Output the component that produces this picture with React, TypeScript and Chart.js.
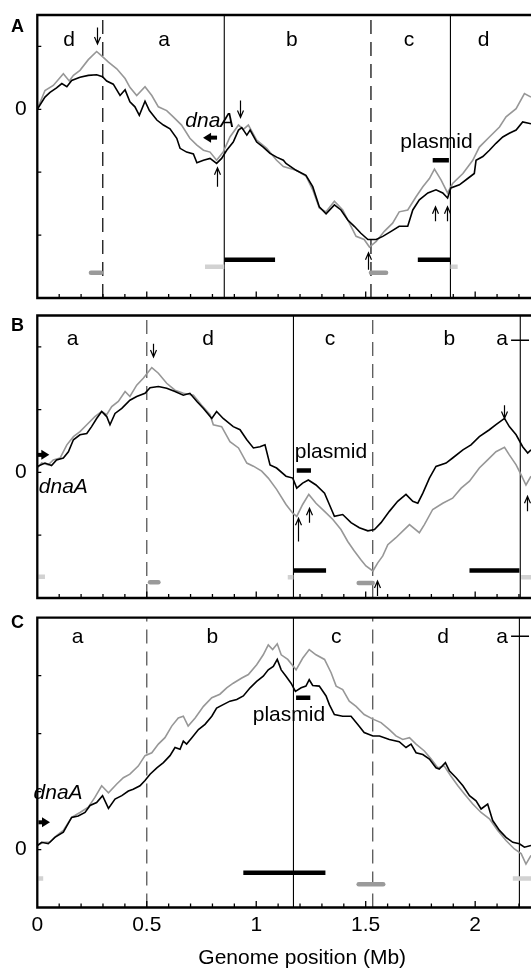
import React, { useEffect, useRef } from 'react';
import { Chart, registerables } from 'chart.js';

Chart.register(...registerables);
Chart.defaults.font.family = "'Liberation Sans', Arial, sans-serif";

type P = [number, number];
type Bar = [number, number, number, string]; // x1, x2, y, kind

const FONT = "'Liberation Sans', Arial, sans-serif";
const X_MAX = 2.255;
const X_LABEL_TICKS = [0, 0.5, 1, 1.5, 2];
const X_MINOR_TICKS = [0.1, 0.2, 0.3, 0.4, 0.5, 0.6, 0.7, 0.8, 0.9, 1.0, 1.1, 1.2, 1.3, 1.4, 1.5, 1.6, 1.7, 1.8, 1.9, 2.0, 2.1, 2.2];
const Y_LABEL = '0';
const X_TITLE = 'Genome position (Mb)';
const X_TITLE_AT = 1.21;

// ---------------- Panel A ----------------
const A_BLACK: P[] = [
  [0, 0], [0.035, 0.195], [0.058, 0.27], [0.088, 0.34], [0.112, 0.41], [0.135, 0.36], [0.157, 0.46], [0.195, 0.51],
  [0.233, 0.54], [0.271, 0.55], [0.298, 0.52], [0.317, 0.45], [0.347, 0.4], [0.378, 0.22], [0.401, 0.31], [0.423, 0.12],
  [0.446, 0.04], [0.466, -0.095], [0.492, 0.13], [0.512, -0.02], [0.546, -0.17], [0.576, -0.25], [0.606, -0.31],
  [0.637, -0.46], [0.652, -0.62], [0.682, -0.68], [0.713, -0.71], [0.729, -0.85], [0.759, -0.81], [0.789, -0.78],
  [0.819, -0.86], [0.842, -0.78], [0.865, -0.65], [0.895, -0.52], [0.919, -0.33], [0.934, -0.29], [0.957, -0.41],
  [0.972, -0.33], [1.002, -0.52], [1.032, -0.6], [1.063, -0.7], [1.093, -0.76], [1.124, -0.81], [1.136, -0.86],
  [1.182, -0.97], [1.227, -1.05], [1.258, -1.23], [1.288, -1.55], [1.319, -1.66], [1.357, -1.52], [1.387, -1.6],
  [1.418, -1.76], [1.448, -1.86], [1.478, -1.97], [1.51, -2.07], [1.548, -2.07], [1.578, -2.02], [1.616, -1.94],
  [1.653, -1.86], [1.692, -1.86], [1.715, -1.6], [1.745, -1.44], [1.784, -1.33], [1.821, -1.28], [1.852, -1.33],
  [1.874, -1.41], [1.889, -1.25], [1.928, -1.2], [1.966, -1.1], [1.996, -1.02], [2.004, -0.81], [2.035, -0.75],
  [2.065, -0.65], [2.095, -0.54], [2.126, -0.44], [2.156, -0.38], [2.187, -0.33], [2.217, -0.2], [2.255, -0.23],
];
const A_GRAY: P[] = [
  [0, 0], [0.035, 0.3], [0.073, 0.38], [0.119, 0.565], [0.146, 0.45], [0.165, 0.54], [0.195, 0.62], [0.233, 0.79],
  [0.271, 0.92], [0.294, 0.85], [0.325, 0.75], [0.363, 0.645], [0.401, 0.49], [0.423, 0.35], [0.454, 0.22],
  [0.492, 0.36], [0.523, 0.22], [0.553, 0.04], [0.591, -0.02], [0.621, -0.12], [0.659, -0.25], [0.697, -0.46],
  [0.729, -0.57], [0.759, -0.65], [0.789, -0.68], [0.819, -0.81], [0.849, -0.68], [0.88, -0.44], [0.919, -0.25],
  [0.941, -0.32], [0.964, -0.25], [1.002, -0.49], [1.048, -0.62], [1.093, -0.81], [1.124, -0.91], [1.182, -0.97],
  [1.227, -1.06], [1.258, -1.28], [1.288, -1.57], [1.319, -1.63], [1.357, -1.46], [1.395, -1.6], [1.456, -2.02],
  [1.493, -2.07], [1.517, -2.19], [1.548, -2.1], [1.585, -1.94], [1.623, -1.81], [1.653, -1.63], [1.692, -1.6],
  [1.73, -1.39], [1.761, -1.23], [1.791, -1.1], [1.814, -0.95], [1.844, -1.12], [1.874, -1.33], [1.897, -1.18],
  [1.944, -1.02], [1.989, -0.81], [2.019, -0.6], [2.065, -0.44], [2.111, -0.28], [2.141, -0.12], [2.187, 0.01],
  [2.225, 0.25], [2.255, 0.195],
];
const A_Y_MIN = -3;
const A_Y_MAX = 1.5;
const A_Y_TICKS = [1, 0, -1, -2];
const A_SOLID = [0.854, 1.887];
const A_DASHED = [0.299, 1.524];
const A_REGIONS: [string, number][] = [['d', 0.145], ['a', 0.579], ['b', 1.163], ['c', 1.698], ['d', 2.038]];
const A_REGION_Y = 1.0;
const A_BARS: Bar[] = [
  [0.245, 0.291, -2.6, 'g'], [0.766, 0.854, -2.505, 'l'], [0.854, 1.086, -2.39, 'k'],
  [1.524, 1.593, -2.6, 'g'], [1.738, 1.887, -2.39, 'k'], [1.887, 1.92, -2.505, 'l'], [1.806, 1.88, -0.81, 'k'],
];
const A_ARROW_LIST: [number, number, number][] = [
  [0.271, 1.3, 1.04], [0.82, -1.23, -0.93], [0.926, 0.14, -0.13], [1.509, -2.55, -2.28], [1.817, -1.78, -1.55], [1.872, -1.78, -1.55],
];
const A_BIG_ARROWS: [number, number, number][] = [[0.821, 0.757, -0.45]];
const A_TEXTS: [string, number, number, boolean][] = [['dnaA', 0.676, -0.28, true], ['plasmid', 1.658, -0.62, false]];

// ---------------- Panel B ----------------
const B_BLACK: P[] = [
  [0, 0.095], [0.035, 0.15], [0.065, 0.11], [0.088, 0.2], [0.119, 0.23], [0.142, 0.33], [0.165, 0.52], [0.195, 0.6],
  [0.226, 0.62], [0.248, 0.73], [0.271, 0.86], [0.294, 0.97], [0.317, 0.89], [0.332, 0.76], [0.355, 0.94], [0.386, 1.02],
  [0.423, 1.15], [0.454, 1.21], [0.492, 1.26], [0.515, 1.35], [0.553, 1.37], [0.591, 1.34], [0.629, 1.29], [0.667, 1.23],
  [0.697, 1.26], [0.729, 1.13], [0.759, 1.02], [0.797, 0.86], [0.819, 0.97], [0.849, 0.86], [0.895, 0.73], [0.926, 0.68],
  [0.957, 0.52], [0.987, 0.39], [1.017, 0.41], [1.04, 0.44], [1.063, 0.12], [1.093, 0.07], [1.136, -0.06], [1.167, -0.09],
  [1.185, -0.25], [1.212, -0.17], [1.238, -0.12], [1.273, -0.2], [1.312, -0.33], [1.334, -0.51], [1.357, -0.7],
  [1.395, -0.67], [1.433, -0.8], [1.471, -0.88], [1.51, -0.93], [1.54, -0.91], [1.57, -0.8], [1.608, -0.62],
  [1.646, -0.46], [1.684, -0.35], [1.715, -0.46], [1.738, -0.49], [1.761, -0.33], [1.791, -0.09], [1.821, 0.095],
  [1.867, 0.15], [1.897, 0.23], [1.944, 0.36], [1.981, 0.44], [2.019, 0.57], [2.065, 0.68], [2.095, 0.76], [2.134, 0.86],
  [2.156, 0.73], [2.187, 0.6], [2.217, 0.41], [2.24, 0.31], [2.255, 0.36],
];
const B_GRAY: P[] = [
  [0, 0.07], [0.02, 0.15], [0.05, 0.12], [0.073, 0.2], [0.104, 0.23], [0.135, 0.44], [0.165, 0.57], [0.195, 0.65],
  [0.226, 0.76], [0.263, 0.89], [0.294, 0.97], [0.317, 0.92], [0.34, 1.05], [0.37, 1.13], [0.401, 1.29], [0.423, 1.21],
  [0.454, 1.39], [0.484, 1.5], [0.523, 1.67], [0.553, 1.58], [0.591, 1.42], [0.629, 1.31], [0.667, 1.26], [0.713, 1.23],
  [0.751, 1.07], [0.789, 0.92], [0.804, 0.76], [0.842, 0.73], [0.88, 0.49], [0.919, 0.39], [0.957, 0.15], [0.987, 0.1],
  [1.025, 0.02], [1.055, -0.09], [1.093, -0.27], [1.136, -0.51], [1.167, -0.65], [1.185, -0.7], [1.212, -0.51],
  [1.24, -0.35], [1.273, -0.49], [1.312, -0.62], [1.35, -0.75], [1.387, -0.91], [1.418, -1.1], [1.448, -1.25],
  [1.478, -1.39], [1.501, -1.49], [1.533, -1.57], [1.555, -1.44], [1.578, -1.33], [1.601, -1.15], [1.638, -1.04],
  [1.676, -0.91], [1.7, -0.83], [1.745, -0.96], [1.768, -0.83], [1.806, -0.59], [1.852, -0.49], [1.897, -0.41],
  [1.936, -0.25], [1.974, -0.14], [2.019, 0.07], [2.057, 0.2], [2.095, 0.33], [2.134, 0.4], [2.156, 0.28], [2.187, 0.12],
  [2.21, -0.04], [2.232, -0.2], [2.255, -0.06],
];
const B_Y_MIN = -2;
const B_Y_MAX = 2.5;
const B_Y_TICKS = [2, 1, 0, -1];
const B_SOLID = [1.17, 2.206];
const B_DASHED = [0.5, 1.532];
const B_REGIONS: [string, number][] = [['a', 0.161], ['d', 0.78], ['c', 1.337], ['b', 1.882], ['a', 2.123]];
const B_REGION_Y = 2.03;
const B_BARS: Bar[] = [
  [0.005, 0.035, -1.66, 'l'], [0.515, 0.553, -1.75, 'g'], [1.185, 1.25, 0.03, 'k'], [1.17, 1.319, -1.56, 'k'],
  [1.144, 1.17, -1.67, 'l'], [1.468, 1.532, -1.76, 'g'], [1.974, 2.202, -1.56, 'k'], [2.21, 2.255, -1.67, 'l'],
  [2.164, 2.246, 2.106, 'h'],
];
const B_ARROW_LIST: [number, number, number][] = [
  [0.527, 2.05, 1.84], [1.19, -1.1, -0.73], [1.24, -0.8, -0.57], [2.131, 1.07, 0.86], [2.236, -0.62, -0.38], [1.55, -1.97, -1.73],
];
const B_BIG_ARROWS: [number, number, number][] = [[0.0, 0.055, 0.28]];
const B_TEXTS: [string, number, number, boolean][] = [['dnaA', 0.007, -0.33, true], ['plasmid', 1.176, 0.23, false]];

// ---------------- Panel C ----------------
const C_BLACK: P[] = [
  [0, 0.07], [0.02, 0.125], [0.05, 0.1], [0.08, 0.21], [0.119, 0.3], [0.135, 0.41], [0.157, 0.555], [0.187, 0.58],
  [0.218, 0.64], [0.241, 0.76], [0.271, 0.81], [0.298, 0.93], [0.325, 0.71], [0.355, 0.87], [0.386, 0.93], [0.416, 1.01],
  [0.438, 1.04], [0.469, 1.1], [0.492, 1.19], [0.515, 1.3], [0.546, 1.41], [0.576, 1.5], [0.606, 1.62], [0.629, 1.76],
  [0.652, 1.73], [0.667, 1.87], [0.682, 1.82], [0.706, 1.93], [0.736, 2.07], [0.766, 2.16], [0.797, 2.3], [0.819, 2.44],
  [0.849, 2.5], [0.88, 2.56], [0.911, 2.59], [0.941, 2.65], [0.972, 2.79], [1.002, 2.9], [1.032, 2.99], [1.055, 3.1],
  [1.078, 3.16], [1.096, 3.28], [1.114, 3.1], [1.136, 2.99], [1.159, 2.87], [1.179, 2.73], [1.205, 2.79], [1.227, 2.82],
  [1.242, 2.93], [1.258, 2.83], [1.288, 2.82], [1.319, 2.65], [1.334, 2.5], [1.357, 2.33], [1.395, 2.3], [1.433, 2.3],
  [1.463, 2.16], [1.493, 2.02], [1.533, 1.96], [1.563, 1.96], [1.608, 1.9], [1.653, 1.86], [1.684, 1.76], [1.707, 1.82],
  [1.73, 1.67], [1.761, 1.64], [1.791, 1.56], [1.821, 1.41], [1.836, 1.39], [1.864, 1.5], [1.882, 1.36], [1.913, 1.24],
  [1.944, 1.1], [1.974, 0.93], [2.004, 0.84], [2.027, 0.7], [2.057, 0.785], [2.08, 0.5], [2.111, 0.33], [2.141, 0.21],
  [2.172, 0.125], [2.202, 0.1], [2.225, 0.04], [2.255, 0.07],
];
const C_GRAY: P[] = [
  [0, 0.07], [0.027, 0.125], [0.058, 0.125], [0.088, 0.24], [0.119, 0.33], [0.157, 0.555], [0.195, 0.64], [0.233, 0.73],
  [0.263, 0.9], [0.294, 1.1], [0.325, 0.98], [0.363, 1.13], [0.393, 1.24], [0.423, 1.3], [0.461, 1.44], [0.492, 1.62],
  [0.523, 1.67], [0.553, 1.82], [0.583, 1.93], [0.614, 2.13], [0.644, 2.27], [0.667, 2.3], [0.689, 2.13], [0.721, 2.27],
  [0.759, 2.47], [0.797, 2.62], [0.834, 2.68], [0.865, 2.79], [0.895, 2.87], [0.934, 2.96], [0.964, 3.02], [1.002, 3.19],
  [1.032, 3.36], [1.055, 3.53], [1.075, 3.45], [1.096, 3.55], [1.114, 3.36], [1.144, 3.28], [1.182, 3.1], [1.212, 3.3],
  [1.242, 3.45], [1.273, 3.36], [1.312, 3.28], [1.342, 3.05], [1.365, 2.82], [1.395, 2.76], [1.425, 2.56], [1.456, 2.47],
  [1.493, 2.33], [1.533, 2.25], [1.57, 2.19], [1.608, 2.07], [1.638, 1.96], [1.669, 1.9], [1.7, 1.93], [1.73, 1.82],
  [1.768, 1.7], [1.799, 1.56], [1.829, 1.41], [1.859, 1.44], [1.889, 1.27], [1.921, 1.1], [1.951, 0.96], [1.989, 0.785],
  [2.027, 0.64], [2.065, 0.53], [2.103, 0.33], [2.141, 0.155], [2.179, 0.01], [2.21, -0.07], [2.232, -0.25], [2.255, -0.1],
];
const C_Y_MIN = -1;
const C_Y_MAX = 4;
const C_Y_TICKS = [3, 2, 1, 0];
const C_SOLID = [1.17, 2.202];
const C_DASHED = [0.5, 1.532];
const C_REGIONS: [string, number][] = [['a', 0.184], ['b', 0.8], ['c', 1.365], ['d', 1.853], ['a', 2.123]];
const C_REGION_Y = 3.56;
const C_BARS: Bar[] = [
  [0.005, 0.027, -0.5, 'l'], [0.941, 1.316, -0.4, 'k'], [1.182, 1.247, 2.62, 'k'], [1.468, 1.58, -0.6, 'g'],
  [2.172, 2.255, -0.5, 'l'], [2.164, 2.246, 3.68, 'h'],
];
const C_ARROW_LIST: [number, number, number][] = [];
const C_BIG_ARROWS: [number, number, number][] = [[0.005, 0.058, 0.47]];
const C_TEXTS: [string, number, number, boolean][] = [['dnaA', -0.017, 0.87, true], ['plasmid', 0.984, 2.22, false]];

interface PanelCfg {
  label: string; labelBase: number; top: number; height: number; padTop: number; padBottom: number;
  xAxis: boolean; yMin: number; yMax: number; yTicks: number[];
  black: P[]; gray: P[]; solid: number[]; dashed: number[]; dashColor: string;
  regions: [string, number][]; regionY: number; bars: Bar[]; arrows: [number, number, number][];
  bigArrows: [number, number, number][]; texts: [string, number, number, boolean][];
}

const PANELS: PanelCfg[] = [
  { label: 'A', labelBase: 32, top: 0, height: 300, padTop: 15, padBottom: 2, xAxis: false,
    yMin: A_Y_MIN, yMax: A_Y_MAX, yTicks: A_Y_TICKS, black: A_BLACK, gray: A_GRAY, solid: A_SOLID, dashed: A_DASHED,
    dashColor: '#111', regions: A_REGIONS, regionY: A_REGION_Y, bars: A_BARS, arrows: A_ARROW_LIST,
    bigArrows: A_BIG_ARROWS, texts: A_TEXTS },
  { label: 'B', labelBase: 31, top: 300, height: 305, padTop: 15.5, padBottom: 7, xAxis: false,
    yMin: B_Y_MIN, yMax: B_Y_MAX, yTicks: B_Y_TICKS, black: B_BLACK, gray: B_GRAY, solid: B_SOLID, dashed: B_DASHED,
    dashColor: '#555', regions: B_REGIONS, regionY: B_REGION_Y, bars: B_BARS, arrows: B_ARROW_LIST,
    bigArrows: B_BIG_ARROWS, texts: B_TEXTS },
  { label: 'C', labelBase: 23, top: 605, height: 363, padTop: 12.7, padBottom: 0, xAxis: true,
    yMin: C_Y_MIN, yMax: C_Y_MAX, yTicks: C_Y_TICKS, black: C_BLACK, gray: C_GRAY, solid: C_SOLID, dashed: C_DASHED,
    dashColor: '#555', regions: C_REGIONS, regionY: C_REGION_Y, bars: C_BARS, arrows: C_ARROW_LIST,
    bigArrows: C_BIG_ARROWS, texts: C_TEXTS },
];

const BAR_STYLE: Record<string, { color: string; width: number; cap: CanvasLineCap }> = {
  k: { color: '#000', width: 4.5, cap: 'butt' },
  g: { color: '#9a9a9a', width: 4.5, cap: 'round' },
  l: { color: '#d2d2d2', width: 4.5, cap: 'butt' },
  h: { color: '#000', width: 1.3, cap: 'butt' },
};

function makeDecor(cfg: PanelCfg) {
  return {
    id: 'decor' + cfg.label,
    afterDatasetsDraw(chart: any) {
      const { ctx, chartArea: a } = chart;
      const xs = chart.scales.x;
      const ys = chart.scales.y;
      ctx.save();
      // frame (left, top, bottom)
      ctx.strokeStyle = '#000';
      ctx.lineWidth = 2.3;
      ctx.lineCap = 'butt';
      ctx.beginPath();
      ctx.moveTo(a.right + 3, a.top);
      ctx.lineTo(a.left, a.top);
      ctx.lineTo(a.left, a.bottom);
      ctx.lineTo(a.right + 3, a.bottom);
      ctx.stroke();
      // inward ticks
      ctx.lineWidth = 1.3;
      ctx.beginPath();
      for (const v of cfg.yTicks) {
        const py = ys.getPixelForValue(v);
        ctx.moveTo(a.left, py);
        ctx.lineTo(a.left + 4, py);
      }
      for (const v of X_MINOR_TICKS) {
        const px = xs.getPixelForValue(v);
        const major = Math.abs(v * 2 - Math.round(v * 2)) < 1e-6;
        ctx.moveTo(px, a.bottom);
        ctx.lineTo(px, a.bottom - (major ? 6.5 : 4));
      }
      ctx.stroke();
      ctx.fillStyle = '#000';
      // y label "0"
      ctx.font = `21px ${FONT}`;
      ctx.textAlign = 'right';
      ctx.textBaseline = 'middle';
      ctx.fillText(Y_LABEL, a.left - 10.5, ys.getPixelForValue(0));
      // region letters
      ctx.textAlign = 'center';
      ctx.textBaseline = 'alphabetic';
      for (const [t, x] of cfg.regions) {
        ctx.fillText(t, xs.getPixelForValue(x), ys.getPixelForValue(cfg.regionY));
      }
      // text labels
      ctx.textAlign = 'left';
      for (const [t, x, y, it] of cfg.texts) {
        ctx.font = `${it ? 'italic ' : ''}21px ${FONT}`;
        ctx.fillText(t, xs.getPixelForValue(x), ys.getPixelForValue(y));
      }
      // thin arrows (head at second y)
      ctx.lineWidth = 1.2;
      for (const [x, y1, y2] of cfg.arrows) {
        const px = Math.round(xs.getPixelForValue(x)) + 0.5;
        const p1 = ys.getPixelForValue(y1);
        const p2 = ys.getPixelForValue(y2);
        const d = p2 > p1 ? 1 : -1;
        ctx.beginPath();
        ctx.moveTo(px, p1);
        ctx.lineTo(px, p2);
        ctx.moveTo(px - 3, p2 - d * 7);
        ctx.lineTo(px, p2);
        ctx.lineTo(px + 3, p2 - d * 7);
        ctx.stroke();
      }
      // thick arrows (tail x, head x, y)
      for (const [x1, x2, y] of cfg.bigArrows) {
        const p1 = xs.getPixelForValue(x1);
        const p2 = xs.getPixelForValue(x2);
        const py = ys.getPixelForValue(y);
        const d = p2 > p1 ? 1 : -1;
        ctx.lineWidth = 4;
        ctx.beginPath();
        ctx.moveTo(p1, py);
        ctx.lineTo(p2 - d * 6, py);
        ctx.stroke();
        ctx.beginPath();
        ctx.moveTo(p2, py);
        ctx.lineTo(p2 - d * 8, py - 5);
        ctx.lineTo(p2 - d * 8, py + 5);
        ctx.closePath();
        ctx.fill();
      }
      // panel label
      ctx.font = `bold 18px ${FONT}`;
      ctx.textAlign = 'left';
      ctx.fillText(cfg.label, 11, cfg.labelBase);
      // axis title
      if (cfg.xAxis) {
        ctx.font = `21px ${FONT}`;
        ctx.textAlign = 'center';
        ctx.fillText(X_TITLE, xs.getPixelForValue(X_TITLE_AT), chart.height - 4);
      }
      ctx.restore();
    },
  };
}

function Panel({ cfg }: { cfg: PanelCfg }) {
  const ref = useRef<HTMLCanvasElement | null>(null);
  useEffect(() => {
    if (!ref.current) return;
    const datasets: any[] = [
      { data: cfg.black.map(([x, y]) => ({ x, y })), borderColor: '#000', borderWidth: 1.6 },
      { data: cfg.gray.map(([x, y]) => ({ x, y })), borderColor: '#979797', borderWidth: 1.6 },
    ];
    for (const [x1, x2, y, k] of cfg.bars) {
      const s = BAR_STYLE[k];
      datasets.push({ data: [{ x: x1, y }, { x: x2, y }], borderColor: s.color, borderWidth: s.width, borderCapStyle: s.cap });
    }
    for (const x of cfg.solid) {
      datasets.push({ data: [{ x, y: cfg.yMin }, { x, y: cfg.yMax }], borderColor: '#000', borderWidth: 1.1 });
    }
    for (const x of cfg.dashed) {
      datasets.push({ data: [{ x, y: cfg.yMin }, { x, y: cfg.yMax }], borderColor: cfg.dashColor, borderWidth: 1.3, borderDash: [14, 8] });
    }
    for (const ds of datasets) {
      ds.type = 'line';
      ds.pointRadius = 0;
      ds.tension = 0;
      ds.fill = false;
    }
    const xScale: any = {
      type: 'linear', min: 0, max: X_MAX, display: cfg.xAxis,
      grid: { display: false, drawTicks: false }, border: { display: false },
      ticks: {
        color: '#000', font: { size: 21, family: FONT }, padding: 5, maxRotation: 0, autoSkip: false,
        callback: (v: any) => String(v),
      },
      afterBuildTicks: (s: any) => { s.ticks = X_LABEL_TICKS.map((v) => ({ value: v })); },
    };
    if (cfg.xAxis) xScale.afterFit = (s: any) => { s.height = 60.5; };
    const chart = new Chart(ref.current, {
      type: 'line',
      data: { datasets },
      options: {
        animation: false,
        responsive: false,
        events: [],
        layout: { padding: { top: cfg.padTop, bottom: cfg.padBottom, left: 37.3, right: 0 } },
        plugins: { legend: { display: false }, tooltip: { enabled: false }, title: { display: false } },
        scales: {
          x: xScale,
          y: { type: 'linear', min: cfg.yMin, max: cfg.yMax, display: false },
        },
      } as any,
      plugins: [makeDecor(cfg)],
    });
    return () => chart.destroy();
  }, [cfg]);
  return (
    <canvas
      ref={ref}
      width={531}
      height={cfg.height}
      style={{ position: 'absolute', left: 0, top: cfg.top, width: 531, height: cfg.height, display: 'block' }}
    />
  );
}

export default function App() {
  return (
    <div style={{ position: 'absolute', left: 0, top: 0, width: 531, height: 968, background: '#fff', overflow: 'hidden' }}>
      {PANELS.map((p) => (
        <Panel key={p.label} cfg={p} />
      ))}
    </div>
  );
}
